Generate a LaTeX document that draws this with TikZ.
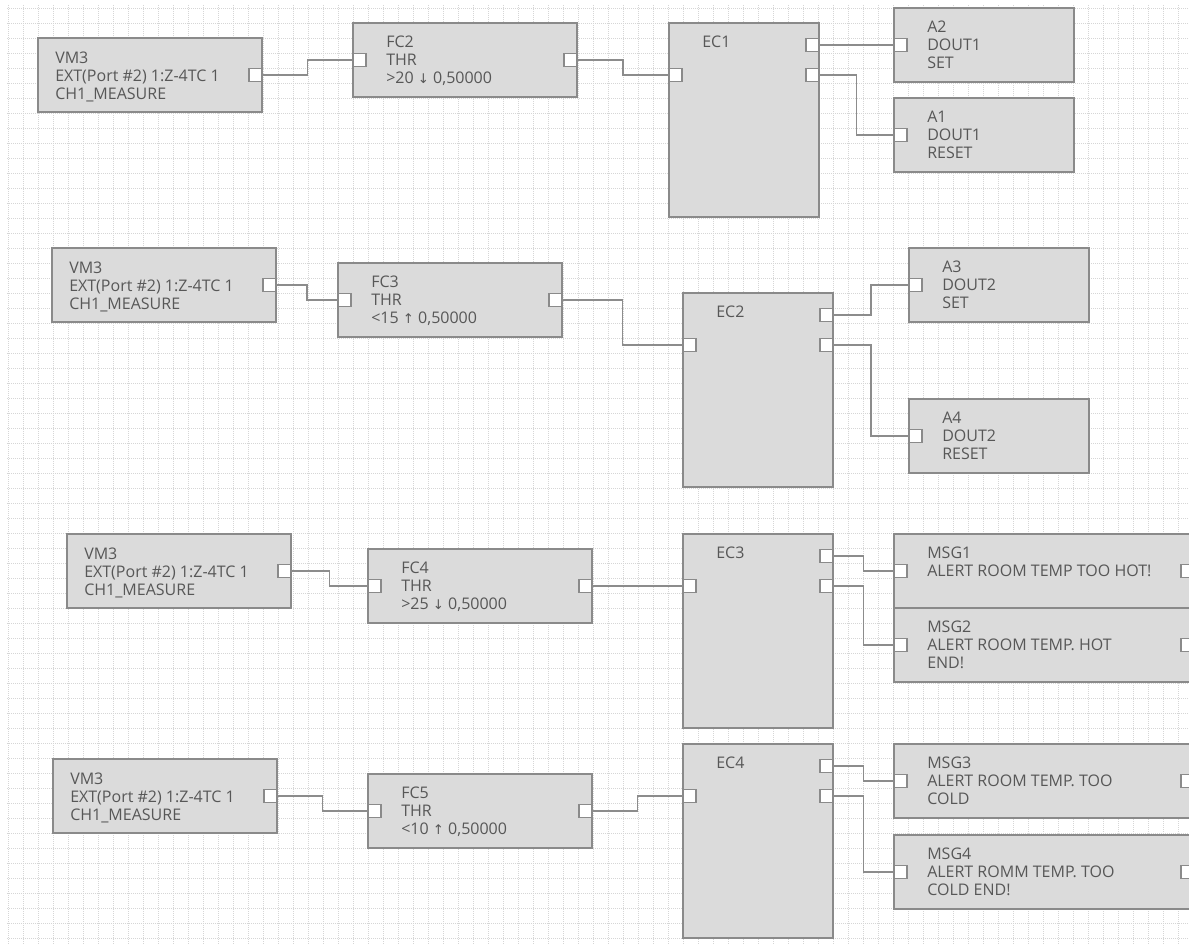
\documentclass[tikz,border=0pt]{standalone}
\usepackage{fontspec}
\usetikzlibrary{positioning,calc}
\newfontfamily\uifont{Open Sans}
\newfontfamily\arrowfont{DejaVu Sans}
\definecolor{boxfill}{HTML}{DBDBDB}
\definecolor{boxline}{HTML}{8A8A8A}
\definecolor{wirecol}{HTML}{8C8C8C}
\definecolor{txtcol}{HTML}{575757}
\definecolor{gridcol}{HTML}{D6D6D6}
\newcommand{\thrdown}{{\arrowfont\fontsize{10pt}{12pt}\selectfont ↓}}
\newcommand{\thrup}{{\arrowfont\fontsize{10pt}{12pt}\selectfont ↑}}
\tikzset{
    box/.style = {draw=boxline, fill=boxfill, line width=1.1pt, rectangle, anchor=north west, inner sep=0pt, outer sep=0pt, minimum height=55.5pt},
    vmbox/.style = {box, minimum width=168pt},
    fcbox/.style = {box, minimum width=168pt},
    ecbox/.style = {box, minimum width=112.5pt, minimum height=145.5pt},
    abox/.style = {box, minimum width=135pt},
    msgbox/.style = {box, minimum width=225pt},
    port/.style = {draw=boxline, fill=white, line width=0.8pt, rectangle, inner sep=0pt, outer sep=0pt, minimum size=9.75pt},
    lbl/.style = {anchor=north west, inner sep=0pt, align=left, text=txtcol, font=\uifont\fontsize{12pt}{13.5pt}\selectfont},
    wire/.style = {draw=wirecol, line width=0.9pt},
    elbow/.style = {to path={-| ($(\tikztostart)!0.5!(\tikztotarget)$) |- (\tikztotarget)}},
    gridline/.style = {gridcol, line width=0.5pt, dash pattern=on 0.75pt off 0.75pt},
}
\begin{document}
\begin{tikzpicture}[x=0.75pt, y=-0.75pt]
    \clip (0,0) rectangle (1189,944);
    \fill[white] (0,0) rectangle (1189,944);
    \foreach \gx in {8,23,...,1188} \draw[gridline] (\gx,5) -- (\gx,944);
    \foreach \gy in {8,23,...,943} \draw[gridline] (7,\gy) -- (1189,\gy);

    % row 1
    \node[vmbox] (vm1) at (38,38) {};
    \node[fcbox] (fc2) at (353,23) {};
    \node[ecbox] (ec1) at (669,23) {};
    \node[abox] (a2) at (894,8) {};
    \node[abox] (a1) at (894,98) {};
    \node[lbl] (vm1t) at ($(vm1.north west)+(17,14)$) {VM3\\EXT(Port \#2) 1:Z-4TC 1\\CH1\_MEASURE};
    \node[lbl] (fc2t) at ($(fc2.north west)+(33,13)$) {FC2\\THR\\>20 \thrdown{} 0,50000};
    \node[lbl] (ec1t) at ($(ec1.north west)+(33,13)$) {EC1};
    \node[lbl] (a2t) at ($(a2.north west)+(33,13)$) {A2\\DOUT1\\SET};
    \node[lbl] (a1t) at ($(a1.north west)+(33,13)$) {A1\\DOUT1\\RESET};
    \node[port, anchor=east] (vm1o) at (vm1.east) {};
    \node[port, anchor=west] (fc2i) at (fc2.west) {};
    \node[port, anchor=east] (fc2o) at (fc2.east) {};
    \node[port, anchor=west] (ec1i) at ($(ec1.north west)+(0,52)$) {};
    \node[port, anchor=east] (ec1o1) at ($(ec1.north east)+(0,22)$) {};
    \node[port, anchor=east] (ec1o2) at ($(ec1.north east)+(0,52)$) {};
    \node[port, anchor=west] (a2i) at (a2.west) {};
    \node[port, anchor=west] (a1i) at (a1.west) {};
    \draw[wire] (vm1o.east) to[elbow] (fc2i.west);
    \draw[wire] (fc2o.east) to[elbow] (ec1i.west);
    \draw[wire] (ec1o1.east) to[elbow] (a2i.west);
    \draw[wire] (ec1o2.east) to[elbow] (a1i.west);

    % row 2
    \node[vmbox] (vm2) at (52,248) {};
    \node[fcbox] (fc3) at (338,263) {};
    \node[ecbox] (ec2) at (683,293) {};
    \node[abox] (a3) at (909,248) {};
    \node[abox] (a4) at (909,399) {};
    \node[lbl] (vm2t) at ($(vm2.north west)+(17,14)$) {VM3\\EXT(Port \#2) 1:Z-4TC 1\\CH1\_MEASURE};
    \node[lbl] (fc3t) at ($(fc3.north west)+(33,13)$) {FC3\\THR\\<15 \thrup{} 0,50000};
    \node[lbl] (ec2t) at ($(ec2.north west)+(33,13)$) {EC2};
    \node[lbl] (a3t) at ($(a3.north west)+(33,13)$) {A3\\DOUT2\\SET};
    \node[lbl] (a4t) at ($(a4.north west)+(33,13)$) {A4\\DOUT2\\RESET};
    \node[port, anchor=east] (vm2o) at (vm2.east) {};
    \node[port, anchor=west] (fc3i) at (fc3.west) {};
    \node[port, anchor=east] (fc3o) at (fc3.east) {};
    \node[port, anchor=west] (ec2i) at ($(ec2.north west)+(0,52)$) {};
    \node[port, anchor=east] (ec2o1) at ($(ec2.north east)+(0,22)$) {};
    \node[port, anchor=east] (ec2o2) at ($(ec2.north east)+(0,52)$) {};
    \node[port, anchor=west] (a3i) at (a3.west) {};
    \node[port, anchor=west] (a4i) at (a4.west) {};
    \draw[wire] (vm2o.east) to[elbow] (fc3i.west);
    \draw[wire] (fc3o.east) to[elbow] (ec2i.west);
    \draw[wire] (ec2o1.east) to[elbow] (a3i.west);
    \draw[wire] (ec2o2.east) to[elbow] (a4i.west);

    % row 3
    \node[vmbox] (vm3) at (67,534) {};
    \node[fcbox] (fc4) at (368,549) {};
    \node[ecbox] (ec3) at (683,534) {};
    \node[msgbox] (msg1) at (894,534) {};
    \node[msgbox] (msg2) at (894,608) {};
    \node[lbl] (vm3t) at ($(vm3.north west)+(17,14)$) {VM3\\EXT(Port \#2) 1:Z-4TC 1\\CH1\_MEASURE};
    \node[lbl] (fc4t) at ($(fc4.north west)+(33,13)$) {FC4\\THR\\>25 \thrdown{} 0,50000};
    \node[lbl] (ec3t) at ($(ec3.north west)+(33,13)$) {EC3};
    \node[lbl] (msg1t) at ($(msg1.north west)+(33,13)$) {MSG1\\ALERT ROOM TEMP TOO HOT!};
    \node[lbl] (msg2t) at ($(msg2.north west)+(33,13)$) {MSG2\\ALERT ROOM TEMP. HOT\\END!};
    \node[port, anchor=east] (vm3o) at (vm3.east) {};
    \node[port, anchor=west] (fc4i) at (fc4.west) {};
    \node[port, anchor=east] (fc4o) at (fc4.east) {};
    \node[port, anchor=west] (ec3i) at ($(ec3.north west)+(0,52)$) {};
    \node[port, anchor=east] (ec3o1) at ($(ec3.north east)+(0,22)$) {};
    \node[port, anchor=east] (ec3o2) at ($(ec3.north east)+(0,52)$) {};
    \node[port, anchor=west] (msg1i) at (msg1.west) {};
    \node[port, anchor=east] (msg1o) at (msg1.east) {};
    \node[port, anchor=west] (msg2i) at (msg2.west) {};
    \node[port, anchor=east] (msg2o) at (msg2.east) {};
    \draw[wire] (vm3o.east) to[elbow] (fc4i.west);
    \draw[wire] (fc4o.east) to[elbow] (ec3i.west);
    \draw[wire] (ec3o1.east) to[elbow] (msg1i.west);
    \draw[wire] (ec3o2.east) to[elbow] (msg2i.west);

    % row 4
    \node[vmbox] (vm4) at (53,759) {};
    \node[fcbox] (fc5) at (368,774) {};
    \node[ecbox] (ec4) at (683,744) {};
    \node[msgbox] (msg3) at (894,744) {};
    \node[msgbox] (msg4) at (894,835) {};
    \node[lbl] (vm4t) at ($(vm4.north west)+(17,14)$) {VM3\\EXT(Port \#2) 1:Z-4TC 1\\CH1\_MEASURE};
    \node[lbl] (fc5t) at ($(fc5.north west)+(33,13)$) {FC5\\THR\\<10 \thrup{} 0,50000};
    \node[lbl] (ec4t) at ($(ec4.north west)+(33,13)$) {EC4};
    \node[lbl] (msg3t) at ($(msg3.north west)+(33,13)$) {MSG3\\ALERT ROOM TEMP. TOO\\COLD};
    \node[lbl] (msg4t) at ($(msg4.north west)+(33,13)$) {MSG4\\ALERT ROMM TEMP. TOO\\COLD END!};
    \node[port, anchor=east] (vm4o) at (vm4.east) {};
    \node[port, anchor=west] (fc5i) at (fc5.west) {};
    \node[port, anchor=east] (fc5o) at (fc5.east) {};
    \node[port, anchor=west] (ec4i) at ($(ec4.north west)+(0,52)$) {};
    \node[port, anchor=east] (ec4o1) at ($(ec4.north east)+(0,22)$) {};
    \node[port, anchor=east] (ec4o2) at ($(ec4.north east)+(0,52)$) {};
    \node[port, anchor=west] (msg3i) at (msg3.west) {};
    \node[port, anchor=east] (msg3o) at (msg3.east) {};
    \node[port, anchor=west] (msg4i) at (msg4.west) {};
    \node[port, anchor=east] (msg4o) at (msg4.east) {};
    \draw[wire] (vm4o.east) to[elbow] (fc5i.west);
    \draw[wire] (fc5o.east) to[elbow] (ec4i.west);
    \draw[wire] (ec4o1.east) to[elbow] (msg3i.west);
    \draw[wire] (ec4o2.east) to[elbow] (msg4i.west);
\end{tikzpicture}
\end{document}
